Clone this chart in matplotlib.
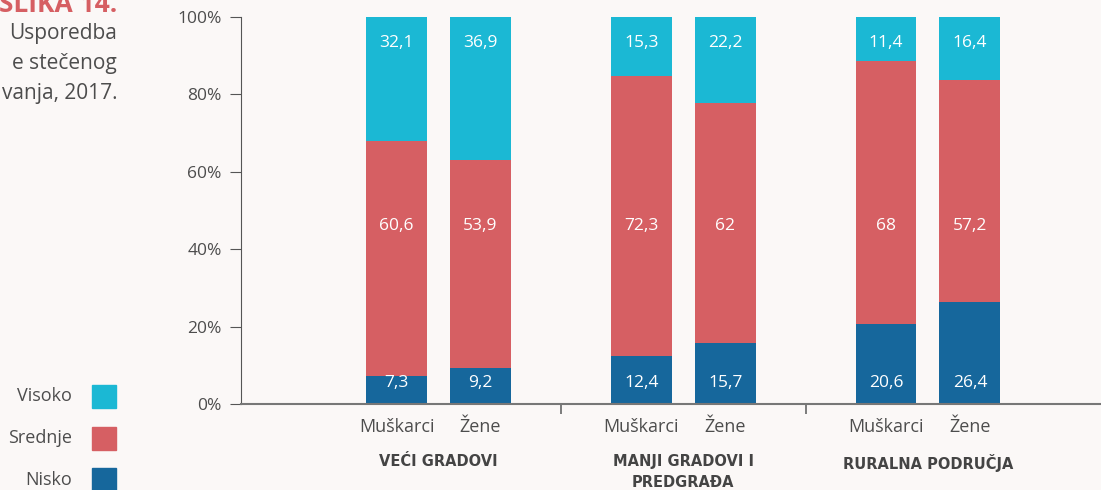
import matplotlib.pyplot as plt
from matplotlib.patches import Rectangle

groups = ["VEĆI GRADOVI", "MANJI GRADOVI I\nPREDGRAĐA", "RURALNA PODRUČJA"]
sexes = ["Muškarci", "Žene"]
nisko = [7.3, 9.2, 12.4, 15.7, 20.6, 26.4]
srednje = [60.6, 53.9, 72.3, 62, 68, 57.2]
visoko = [32.1, 36.9, 15.3, 22.2, 11.4, 16.4]
series = ["Visoko", "Srednje", "Nisko"]
colors = {"Visoko": "#1bb8d4", "Srednje": "#d65f63", "Nisko": "#16679c"}
yticks = [0, 20, 40, 60, 80, 100]

bg = "#fbf8f7"
txt = "#4d4d4d"
plt.rcParams['font.family'] = ['Open Sans', 'DejaVu Sans']

fig = plt.figure(figsize=(11.01, 4.9), dpi=100, facecolor=bg)
W, H = 1101, 490
ax = fig.add_axes([241 / W, 86 / H, (W - 241) / W, 387 / H])
ax.set_facecolor(bg)

# bar positions: groups at 0,1,2 ; bars offset +-0.17
xs = []
for g in range(3):
    xs += [g - 0.1716, g + 0.1716]
width = 0.249

def fmt(v):
    s = f"{v:g}"
    return s.replace(".", ",")

ax.bar(xs, nisko, width, color=colors["Nisko"])
ax.bar(xs, srednje, width, bottom=nisko, color=colors["Srednje"])
bot2 = [a + b for a, b in zip(nisko, srednje)]
ax.bar(xs, visoko, width, bottom=bot2, color=colors["Visoko"])

for x, n, s, v in zip(xs, nisko, srednje, visoko):
    ax.text(x, 5.4, fmt(n), ha="center", va="center", color="white", fontsize=12.5)
    ax.text(x, 46, fmt(s), ha="center", va="center", color="white", fontsize=12.5)
    ax.text(x, 93.3, fmt(v), ha="center", va="center", color="white", fontsize=12.5)

ax.set_xlim(-0.807, 2.707)
ax.set_ylim(0, 100)
ax.set_yticks(yticks)
ax.set_yticklabels([f"{t}%" for t in yticks], color=txt, fontsize=12.5)
ax.tick_params(axis="y", length=8, color="#555555", pad=6)

ax.set_xticks(xs)
ax.set_xticklabels(sexes * 3, color=txt, fontsize=13)
ax.tick_params(axis="x", length=0, pad=10)
ax.set_xticks([0.5, 1.5], minor=True)
ax.tick_params(axis="x", which="minor", length=7, color="#666666", width=1.2)

for sp in ["top", "right"]:
    ax.spines[sp].set_visible(False)
ax.spines["left"].set_color("#555555")
ax.spines["bottom"].set_color("#777777")
ax.spines["bottom"].set_linewidth(1.5)

for g, name in enumerate(groups):
    ax.text(g, -13.0, name, ha="center", va="top", color="#444444", fontsize=10.5,
            fontweight="bold", family="DejaVu Sans", linespacing=1.5,
            transform=ax.transData, clip_on=False)

# title fragments at left edge
fig.text(117 / W, 1 - 4 / H, "SLIKA 14.", ha="right", va="center", color="#d65f63",
         fontsize=19, fontweight="bold")
for i, line in enumerate(["Usporedba", "e stečenog", "vanja, 2017."]):
    fig.text(117 / W, 1 - (33 + 30 * i) / H, line, ha="right", va="center",
             color=txt, fontsize=15)

# legend
for i, name in enumerate(series):
    yc = 396 + 42 * i
    fig.add_artist(Rectangle((92 / W, 1 - (yc + 11.5) / H), 24 / W, 23 / H,
                             transform=fig.transFigure, color=colors[name]))
    fig.text(72 / W, 1 - yc / H, name, ha="right", va="center", color=txt, fontsize=13)

fig.savefig("out.png", dpi=100, facecolor=bg)
